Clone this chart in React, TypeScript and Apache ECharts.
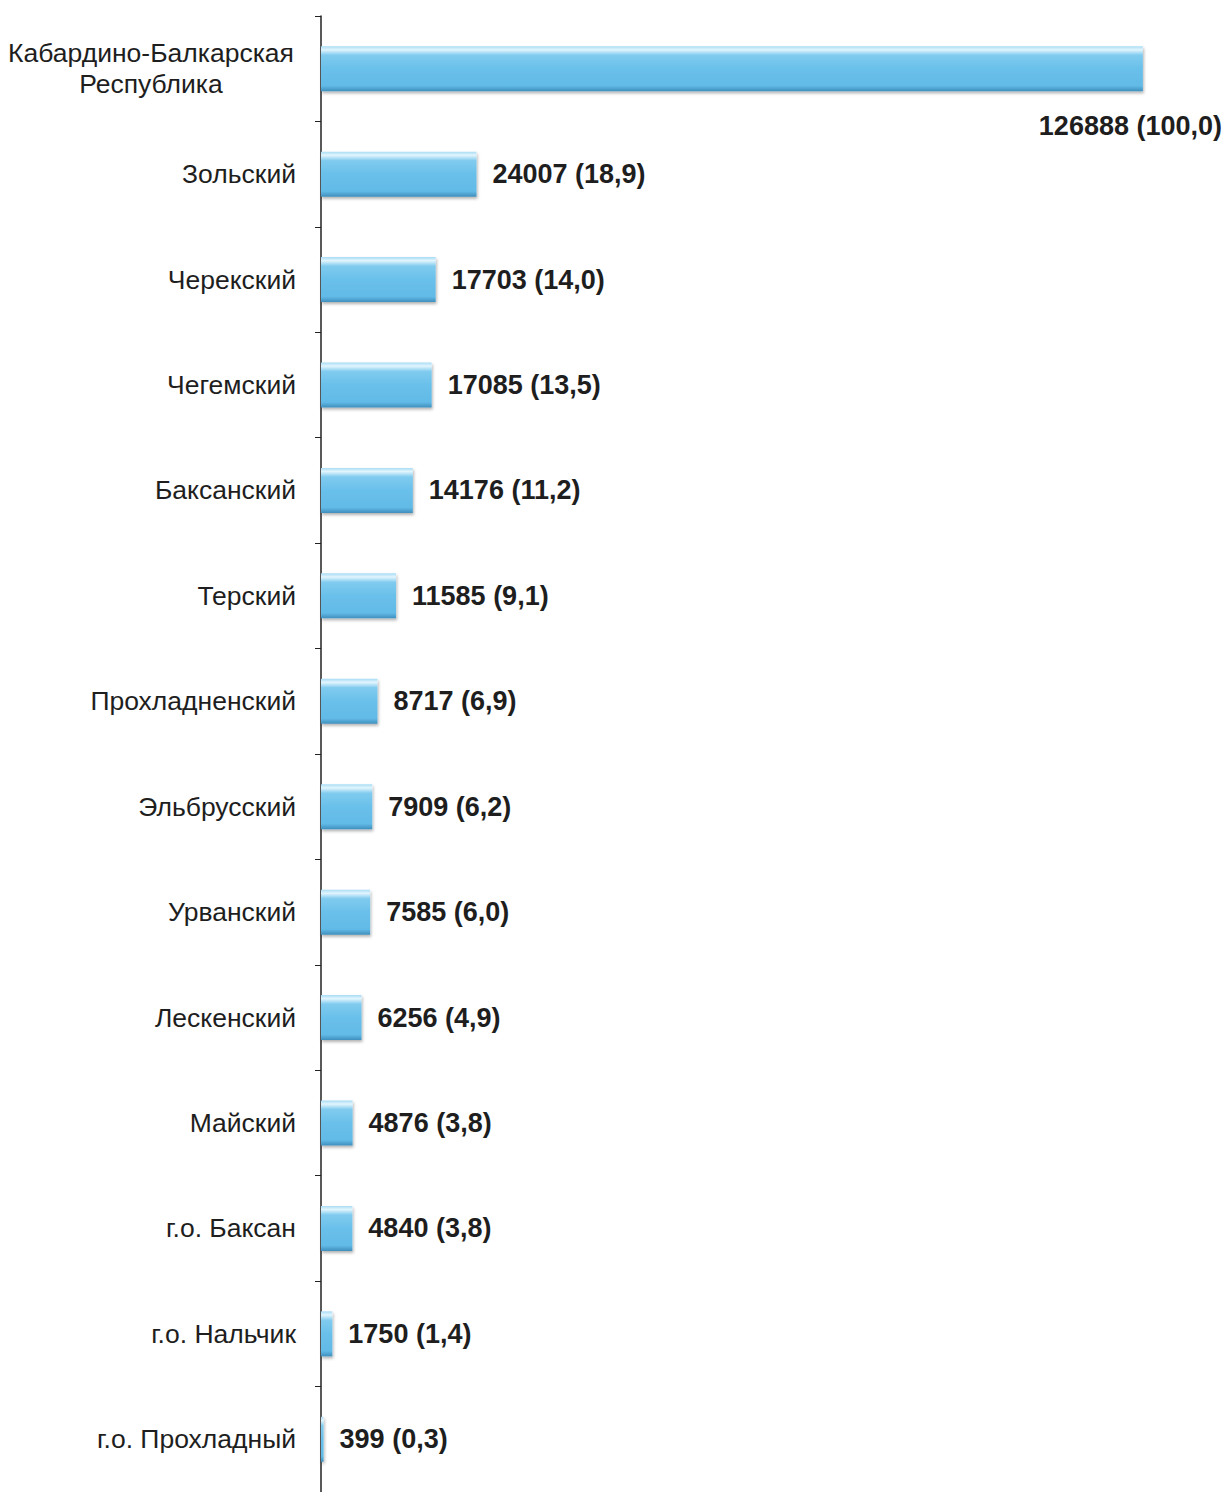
import React, { useEffect, useRef } from "react";
import * as echarts from "echarts";

const categories = [
  "Кабардино-Балкарская\nРеспублика",
  "Зольский",
  "Черекский",
  "Чегемский",
  "Баксанский",
  "Терский",
  "Прохладненский",
  "Эльбрусский",
  "Урванский",
  "Лескенский",
  "Майский",
  "г.о. Баксан",
  "г.о. Нальчик",
  "г.о. Прохладный",
];
const values = [126888, 24007, 17703, 17085, 14176, 11585, 8717, 7909, 7585, 6256, 4876, 4840, 1750, 399];
const shares = ["100,0", "18,9", "14,0", "13,5", "11,2", "9,1", "6,9", "6,2", "6,0", "4,9", "3,8", "3,8", "1,4", "0,3"];

const FONT = "Liberation Sans, Arial, sans-serif";

export default function App() {
  const ref = useRef<HTMLDivElement>(null);
  useEffect(() => {
    if (!ref.current) return;
    const chart = echarts.init(ref.current, null, { renderer: "svg" });
    const barColor = new echarts.graphic.LinearGradient(0, 0, 0, 1, [
      { offset: 0, color: "#a8dcf5" },
      { offset: 0.08, color: "#e2f5fd" },
      { offset: 0.2, color: "#80cbef" },
      { offset: 0.5, color: "#69c0ea" },
      { offset: 0.88, color: "#62bae6" },
      { offset: 1, color: "#3f8fbd" },
    ]);
    chart.setOption({
      animation: false,
      grid: { left: 321, right: 67, top: 16, bottom: -4 },
      xAxis: {
        type: "value",
        min: 0,
        max: 130000,
        show: false,
      },
      yAxis: {
        type: "category",
        inverse: true,
        data: categories,
        axisLine: { show: true, lineStyle: { color: "#222", width: 1.5 } },
        axisTick: { show: true, length: 6, lineStyle: { color: "#222", width: 1 } },
        axisLabel: {
          margin: 25,
          fontFamily: FONT,
          fontSize: 26.5,
          color: "#1e1e1e",
          formatter: (v: string) => {
            if (v.indexOf("\n") >= 0) {
              return v
                .split("\n")
                .map((s) => "{c|" + s + "}")
                .join("\n");
            }
            return v;
          },
          rich: {
            c: {
              width: 290,
              align: "center",
              fontFamily: FONT,
              fontSize: 26.5,
              color: "#1e1e1e",
              lineHeight: 31,
            },
          },
        },
      },
      series: [
        {
          type: "bar",
          barWidth: 45,
          data: values.map((v, i) => ({
            value: v,
            label:
              i === 0
                ? { position: "right", offset: [-120, 57] }
                : undefined,
          })),
          itemStyle: {
            color: barColor,
            shadowColor: "rgba(0,0,0,0.3)",
            shadowBlur: 3,
            shadowOffsetX: 1,
            shadowOffsetY: 2,
          },
          label: {
            show: true,
            position: "right",
            distance: 16,
            fontFamily: FONT,
            fontWeight: "bold",
            fontSize: 27,
            color: "#1e1e1e",
            formatter: (p: any) => values[p.dataIndex] + " (" + shares[p.dataIndex] + ")",
          },
        },
      ],
    });
    return () => chart.dispose();
  }, []);
  return (
    <div
      ref={ref}
      style={{ position: "absolute", left: 0, top: 0, width: 1230, height: 1492, background: "#fff" }}
    />
  );
}
